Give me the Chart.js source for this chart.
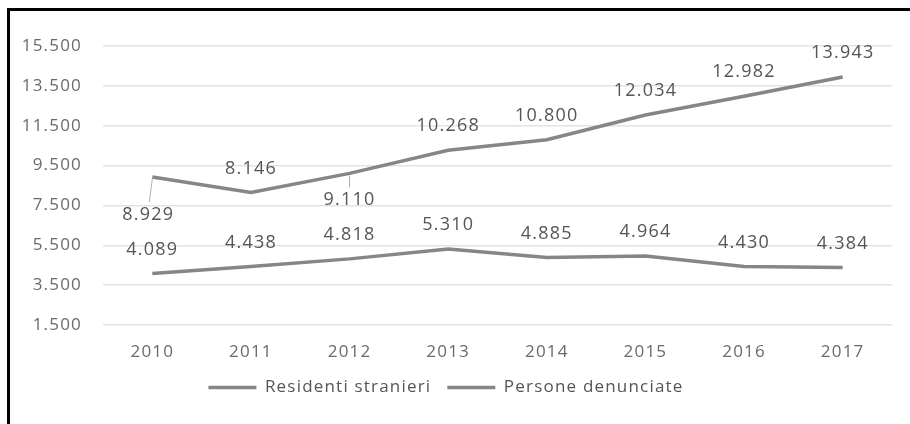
<!DOCTYPE html>
<html lang="it">
<head>
<meta charset="UTF-8" />
<title>Residenti stranieri e persone denunciate</title>
<script src="https://cdn.jsdelivr.net/npm/chart.js"></script>
<style>
  html, body { margin: 0; padding: 0; background: #fff; }
  #wrap { position: relative; width: 910px; height: 424px; overflow: hidden; }
  #frame { position: absolute; left: 7px; top: 8px; width: 1000px; height: 500px;
           border-top: 3px solid #000; border-left: 3px solid #000; pointer-events: none; }
</style>
</head>
<body>
<div id="wrap">
  <canvas id="chart"></canvas>
  <div id="frame"></div>
</div>

<script>
  const years = ['2010', '2011', '2012', '2013', '2014', '2015', '2016', '2017'];
  const residentiStranieri = [8929, 8146, 9110, 10268, 10800, 12034, 12982, 13943];
  const personeDenunciate = [4089, 4438, 4818, 5310, 4885, 4964, 4430, 4384];
  const seriesNames = ['Residenti stranieri', 'Persone denunciate'];
  const yTicks = [1500, 3500, 5500, 7500, 9500, 11500, 13500, 15500];

  const LINE = '#868686';
  const TICK = '#6a6a6a';
  const LABEL = '#555555';
  const FONT = "'Open Sans', 'DejaVu Sans', sans-serif";

  // numero all'italiana: 13943 -> 13.943
  function fmt(v) {
    return String(Math.round(v)).replace(/\B(?=(\d{3})+(?!\d))/g, '.');
  }

  // un po' di spaziatura tra le lettere, il testo originale e' largo
  const spacing = {
    id: 'spacing',
    beforeLayout(chart) { chart.ctx.letterSpacing = '1.2px'; },
    beforeDraw(chart) { chart.ctx.letterSpacing = '1.2px'; }
  };

  // etichette dei valori sopra/sotto i punti
  const valueLabels = {
    id: 'valueLabels',
    afterDatasetsDraw(chart, args, opts) {
      const ctx = chart.ctx;
      ctx.save();
      ctx.letterSpacing = '1.2px';
      ctx.font = '18px ' + FONT;
      ctx.fillStyle = LABEL;
      ctx.textAlign = 'center';
      ctx.textBaseline = 'middle';
      chart.data.datasets.forEach((ds, i) => {
        const meta = chart.getDatasetMeta(i);
        const below = (opts.below[i] || {});
        meta.data.forEach((pt, j) => {
          const txt = fmt(ds.data[j]);
          if (below[j] !== undefined) {
            const dy = below[j];
            ctx.strokeStyle = '#b0b0b0';
            ctx.lineWidth = 1;
            ctx.beginPath();
            ctx.moveTo(pt.x, pt.y + 2);
            ctx.lineTo(pt.x - (dy > 30 ? 3 : 0), pt.y + dy - 13);
            ctx.stroke();
            ctx.fillText(txt, pt.x - (dy > 30 ? 4 : 0), pt.y + dy);
          } else {
            ctx.fillText(txt, pt.x, pt.y - 24);
          }
        });
      });
      ctx.restore();
    }
  };

  const ctx = document.getElementById('chart').getContext('2d');
  new Chart(ctx, {
    type: 'line',
    data: {
      labels: years,
      datasets: [
        { label: seriesNames[0], data: residentiStranieri, borderColor: LINE, borderWidth: 3.5 },
        { label: seriesNames[1], data: personeDenunciate, borderColor: LINE, borderWidth: 3.5 }
      ]
    },
    options: {
      responsive: true,
      maintainAspectRatio: false,
      animation: false,
      layout: { padding: { left: 0, right: 18, top: 46, bottom: 18 } },
      elements: {
        line: { tension: 0 },
        point: { radius: 0, hoverRadius: 0 }
      },
      scales: {
        x: {
          offset: true,
          grid: { display: false, drawTicks: false },
          border: { display: false },
          ticks: { color: TICK, font: { family: FONT, size: 17 }, padding: 17 },
          afterFit(scale) { scale.height = 38; }
        },
        y: {
          min: 1500,
          max: 15500,
          afterBuildTicks(scale) { scale.ticks = yTicks.map(v => ({ value: v })); },
          grid: { color: '#e3e3e3', lineWidth: 1.5, drawTicks: false },
          border: { display: false },
          ticks: { color: TICK, font: { family: FONT, size: 17 }, padding: 21, callback: v => fmt(v) },
          afterFit(scale) { scale.width = 103; }
        }
      },
      plugins: {
        legend: {
          position: 'bottom',
          labels: {
            color: LABEL,
            font: { family: FONT, size: 17 },
            usePointStyle: true,
            pointStyle: 'line',
            pointStyleWidth: 48,
            padding: 16
          }
        },
        tooltip: { enabled: false },
        valueLabels: { below: { 0: { 0: 38, 2: 27 } } }
      }
    },
    plugins: [spacing, valueLabels]
  });
</script>
</body>
</html>
